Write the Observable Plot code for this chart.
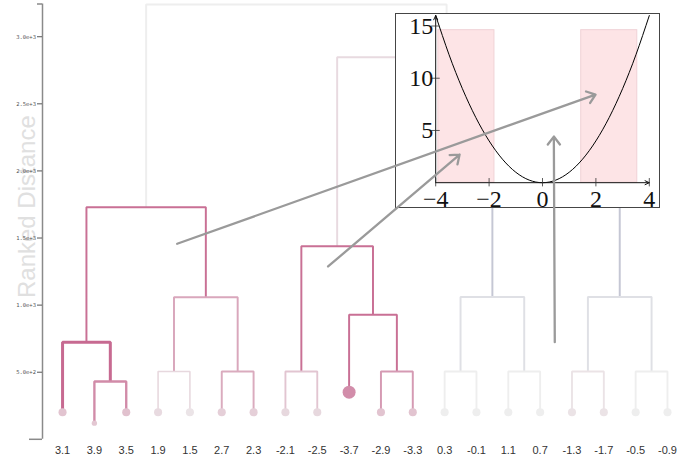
<!DOCTYPE html>
<html>
<head>
<meta charset="utf-8">
<script src="https://cdn.jsdelivr.net/npm/d3@7"></script>
<script src="https://cdn.jsdelivr.net/npm/@observablehq/plot@0.6"></script>
<style>
  html, body { margin: 0; padding: 0; background: white; }
  #wrap { position: relative; width: 690px; height: 462px; overflow: hidden; }
  #inset { position: absolute; left: 395px; top: 13px; border: 1.5px solid #454545; background: white; line-height: 0; }
  #overlay { position: absolute; left: 0; top: 0; pointer-events: none; }
</style>
</head>
<body>
<div id="wrap">
  <div id="main"></div>
  <div id="inset"></div>
  <div id="overlay"></div>
</div>
<script>
// ---- Dendrogram data ----
const labels = ["3.1","3.9","3.5","1.9","1.5","2.7","2.3","-2.1","-2.5","-3.7","-2.9","-3.3","0.3","-0.1","1.1","0.7","-1.3","-1.7","-0.5","-0.9"];
const leafHeight = [202,120,202,202,202,202,202,202,202,351,202,202,202,202,202,202,202,202,202,202];
const leafSize   = [5,2.2,5,5,5,5,5,5,5,13,5,5,5,5,5,5,5,5,5,5];
const leafScore  = [0.3,0.28,0.32,0.14,0.07,0.22,0.22,0.16,0.16,0.69,0.3,0.3,0,0,0,0,0.08,0.08,0,0];

// internal nodes (id = 20 + index), children refer to leaf ids (<20) or node ids
const nodeLeft    = [1,0,3,5,22,21,7,10,9,26,12,14,30,16,18,33,32,29,25];
const nodeRight   = [2,20,4,6,23,24,8,11,27,28,13,15,31,17,19,34,35,36,37];
const nodeHeight  = [431,724,505,505,1059,1730,505,505,928,1439,505,505,1060,505,505,1060,2100,2847,3240];
const nodeScore   = [0.71,0.94,0.16,0.48,0.51,0.9,0.29,0.6,0.9,0.9,0,0,-0.2,0.08,0,-0.2,-0.55,0.14,0];
const nodeSupport = [0.6,1,0.1,0.35,0.35,0.35,0.3,0.35,0.35,0.35,0.3,0.3,0.35,0.3,0.3,0.35,0.35,0.35,0.35];

const yTicks = [500,1000,1500,2000,2500,3000];

// annotation arrows (data space of the dendrogram)
const arrowFromX = [3.6, 8.34, 15.46];
const arrowFromY = [1457, 1288, 724];
const arrowToX   = [16.74, 12.47, 15.43];
const arrowToY   = [2569, 2122, 2256];

// ---- Inset data ----
const curveX = [-4,-3.5,-3,-2.5,-2,-1.5,-1,-0.5,0,0.5,1,1.5,2,2.5,3,3.5,4];
const curveY = [16,12.25,9,6.25,4,2.25,1,0.25,0,0.25,1,2.25,4,6.25,9,12.25,16];
const bandX1 = [-3.9, 1.45];
const bandX2 = [-1.8, 3.55];
const bandTop = [14.6, 14.6];
const insetXTicks = [-4,-2,0,2,4];
const insetYTicks = [5,10,15];

// ---- Build tree geometry ----
const nLeaves = labels.length;
const posX = [], posH = [];
for (let i = 0; i < nLeaves; i++) { posX[i] = i; posH[i] = leafHeight[i]; }
nodeLeft.forEach((l, k) => {
  const id = nLeaves + k, r = nodeRight[k];
  posX[id] = (posX[l] + posX[r]) / 2;
  posH[id] = nodeHeight[k];
});
const segs = [];
const order = d3.range(nodeLeft.length).sort((a, b) => nodeHeight[b] - nodeHeight[a]);
for (const k of order) {
  const l = nodeLeft[k], r = nodeRight[k], h = nodeHeight[k];
  const pts = [[posX[l], posH[l]], [posX[l], h], [posX[r], h], [posX[r], posH[r]]];
  for (const [x, y] of pts) segs.push({id: k, x, y, score: nodeScore[k], support: nodeSupport[k]});
}
const leaves = labels.map((lab, i) => ({x: i, h: leafHeight[i], size: leafSize[i], score: leafScore[i]}));
const arrows = arrowFromX.map((_, i) => ({x1: arrowFromX[i], y1: arrowFromY[i], x2: arrowToX[i], y2: arrowToY[i]}));

const xmin = -0.63, xmax = 19, ymax = 3244;
const layout = {width: 690, height: 462, marginLeft: 42, marginRight: 23, marginTop: 3.5, marginBottom: 23.2};
const axisPx = 31.84; // px per leaf step

const main = Plot.plot({
  ...layout,
  x: {domain: [xmin, xmax]},
  y: {domain: [0, ymax]},
  color: {type: "linear", domain: [-1, 0, 1], range: ["#a3a7bf", "#eeeeee", "#c5628b"], interpolate: "rgb"},
  r: {type: "sqrt", domain: [0, 13], range: [0, 6.5]},
  style: {background: "white", overflow: "visible"},
  marks: [
    Plot.text(["Ranked Distance"], {frameAnchor: "left", textAnchor: "middle", dx: -15, dy: -15, rotate: -90, fontSize: 24, fill: "#e0e0e0", fontFamily: "Liberation Sans"}),
    Plot.line(segs, {x: "x", y: "y", z: "id", stroke: "score", strokeWidth: d => 1.4 + 1.6 * d.support, strokeLinejoin: "miter", strokeLinecap: "butt"}),
    Plot.dot(leaves, {x: "x", y: "h", r: "size", fill: "score"}),
    Plot.ruleX([xmin], {y1: 0, y2: ymax, stroke: "#8a8a8a", strokeWidth: 1.5}),
    Plot.ruleY([0], {x1: xmin - 13 / axisPx, x2: xmin, stroke: "#8a8a8a", strokeWidth: 1.5}),
    Plot.ruleY([ymax], {x1: xmin - 5 / axisPx, x2: xmin, stroke: "#8a8a8a", strokeWidth: 1.5}),
    Plot.axisY({anchor: "left", ticks: yTicks, tickFormat: d3.format(".1e"), tickSize: 5, tickPadding: 1.5, fontSize: 5.5, fontFamily: "DejaVu Sans Mono", color: "#555", label: null}),
    Plot.axisX({anchor: "bottom", ticks: d3.range(nLeaves), tickFormat: i => labels[i], tickSize: 0, tickPadding: 7, fontSize: 11, fontFamily: "Liberation Sans", color: "#333", label: null})
  ]
});
document.getElementById("main").append(main);

// ---- Inset ----
const curve = curveX.map((x, i) => ({x, y: curveY[i]}));
const bands = bandX1.map((x1, i) => ({x1, x2: bandX2[i], y2: bandTop[i]}));
const inset = Plot.plot({
  width: 263, height: 193, marginLeft: 39.2, marginRight: 10.2, marginTop: 11.5, marginBottom: 24.8,
  x: {domain: [-4, 4]},
  y: {domain: [0, 15]},
  style: {background: "white", overflow: "visible"},
  marks: [
    Plot.rect(bands, {x1: "x1", x2: "x2", y1: 0, y2: "y2", fill: "#fde4e6", stroke: "#f0d2d6", strokeWidth: 1}),
    Plot.line(curve, {x: "x", y: "y", curve: "natural", stroke: "black", strokeWidth: 1}),
    Plot.arrow([{a: -4, b: 0, c: 4, d: 0}, {a: -4, b: 0, c: -4, d: 16}], {x1: "a", y1: "b", x2: "c", y2: "d", stroke: "#111", strokeWidth: 1, headLength: 7, headAngle: 50}),
    Plot.ruleX(insetXTicks, {y1: -0.4, y2: 0.4, stroke: "#333", strokeWidth: 0.8}),
    Plot.ruleY(insetYTicks, {x1: -4.15, x2: -3.83, stroke: "#333", strokeWidth: 0.8}),
    Plot.axisX({anchor: "bottom", ticks: insetXTicks, tickSize: 0, tickPadding: 7, fontSize: 24, fontFamily: "Liberation Serif", color: "#111", label: null}),
    Plot.axisY({anchor: "left", ticks: insetYTicks, tickSize: 0, tickPadding: 2.5, fontSize: 24, fontFamily: "Liberation Serif", color: "#111", label: null})
  ]
});
document.getElementById("inset").append(inset);

// ---- Annotation arrows overlay ----
const overlay = Plot.plot({
  ...layout,
  x: {domain: [xmin, xmax], axis: null},
  y: {domain: [0, ymax], axis: null},
  style: {background: "transparent", overflow: "visible"},
  marks: [
    Plot.arrow(arrows, {x1: "x1", y1: "y1", x2: "x2", y2: "y2", stroke: "#9a9a9a", strokeWidth: 2.3, headLength: 6.5, headAngle: 75})
  ]
});
document.getElementById("overlay").append(overlay);
</script>
</body>
</html>
